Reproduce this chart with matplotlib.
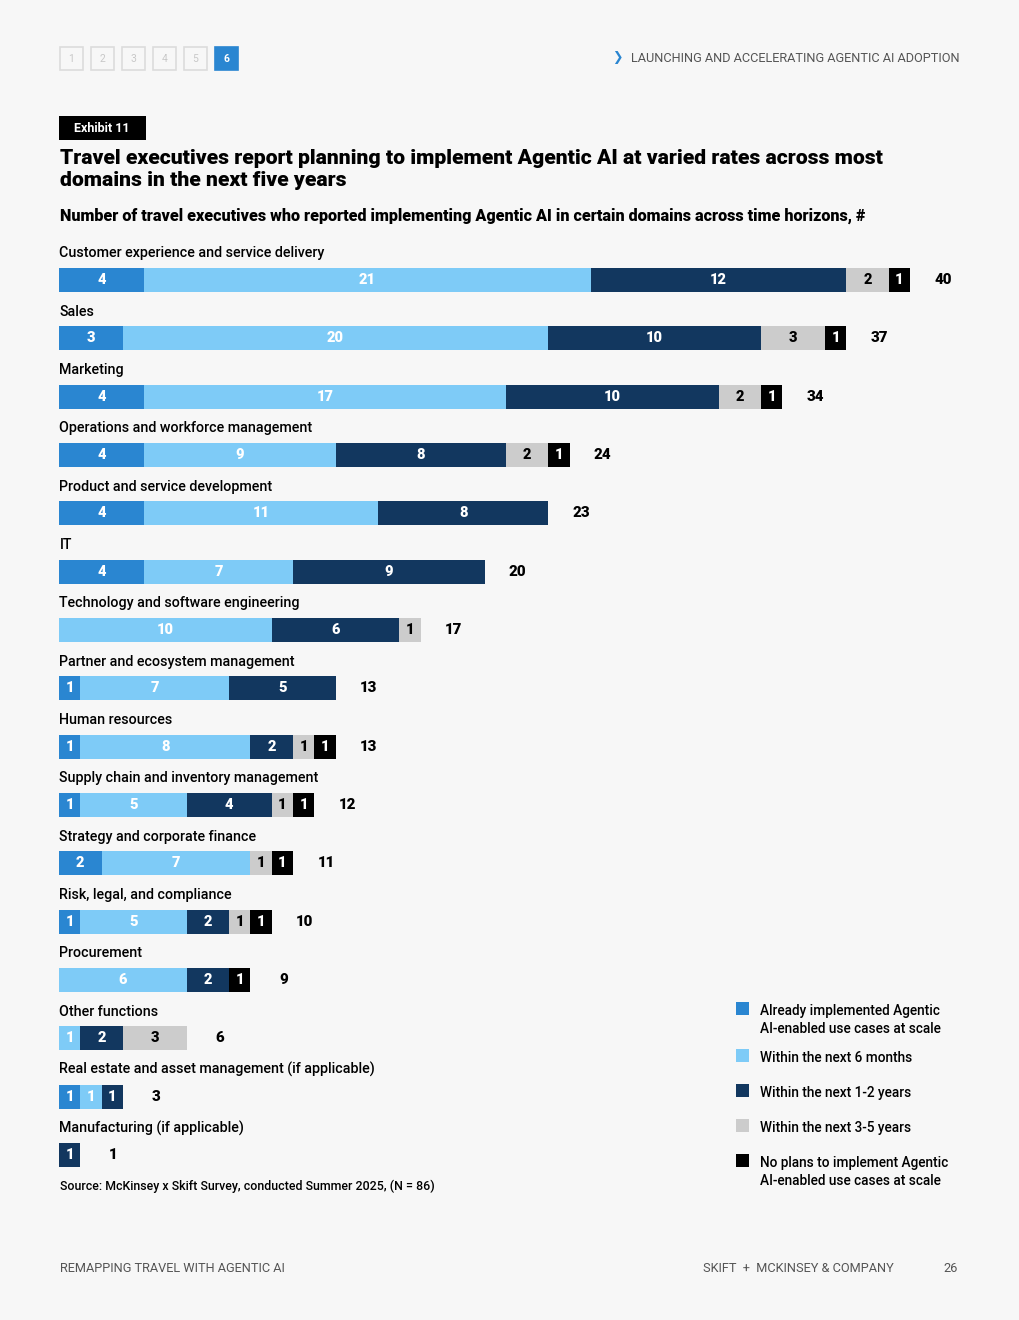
import matplotlib
matplotlib.use("Agg")
import matplotlib.pyplot as plt
from matplotlib.patches import Rectangle

categories = [
    "Customer experience and service delivery",
    "Sales",
    "Marketing",
    "Operations and workforce management",
    "Product and service development",
    "IT",
    "Technology and software engineering",
    "Partner and ecosystem management",
    "Human resources",
    "Supply chain and inventory management",
    "Strategy and corporate finance",
    "Risk, legal, and compliance",
    "Procurement",
    "Other functions",
    "Real estate and asset management (if applicable)",
    "Manufacturing (if applicable)",
]
already    = [4, 3, 4, 4, 4, 4, 0, 1, 1, 1, 2, 1, 0, 0, 1, 0]
six_months = [21, 20, 17, 9, 11, 7, 10, 7, 8, 5, 7, 5, 6, 1, 1, 0]
one_two    = [12, 10, 10, 8, 8, 9, 6, 5, 2, 4, 0, 2, 2, 2, 1, 1]
three_five = [2, 3, 2, 2, 0, 0, 1, 0, 1, 1, 1, 1, 0, 3, 0, 0]
no_plans   = [1, 1, 1, 1, 0, 0, 0, 0, 1, 1, 1, 1, 1, 0, 0, 0]

series_labels = [
    "Already implemented Agentic\nAI-enabled use cases at scale",
    "Within the next 6 months",
    "Within the next 1-2 years",
    "Within the next 3-5 years",
    "No plans to implement Agentic\nAI-enabled use cases at scale",
]
series = [already, six_months, one_two, three_five, no_plans]
colors = ["#2a86d1", "#7ecbf7", "#12375f", "#cccccc", "#000000"]
text_colors = ["white", "white", "white", "black", "white"]

BG = "#f7f7f7"
FONT = "Roboto"
W, H = 1020, 1320


def px(x, y):
    """pixel position (top-left origin) -> figure fraction"""
    return x / W, 1 - y / H


fig = plt.figure(figsize=(W / 100, H / 100), dpi=100, facecolor=BG)
plt.rcParams["font.family"] = FONT

# ---- header: page tabs + section name ----
for i in range(6):
    x0 = 60 + i * 31
    active = i == 5
    fx, fy = px(x0, 70)
    fig.patches.append(Rectangle((fx, fy), 23 / W, 23 / H, transform=fig.transFigure,
                                 facecolor="#2a86d1" if active else "none",
                                 edgecolor="#2a86d1" if active else "#dcdcdc",
                                 linewidth=1.2))
    fig.text(*px(x0 + 11.5, 58.5), str(i + 1), ha="center", va="center",
             fontsize=7.5, color="white" if active else "#c8c8c8",
             fontweight="bold" if active else "normal")
fig.text(*px(617, 58), "\u276F", ha="center", va="center", fontsize=9,
         color="#2a86d1", family=["DejaVu Sans"], fontweight="bold")
fig.text(*px(960, 58), "LAUNCHING AND ACCELERATING AGENTIC AI ADOPTION",
         ha="right", va="center", fontsize=9.2, color="#555555")

# ---- exhibit tag, title, subtitle ----
fx, fy = px(59, 140)
fig.patches.append(Rectangle((fx, fy), 87 / W, 24 / H, transform=fig.transFigure,
                             facecolor="black", edgecolor="none"))
fig.text(*px(102, 128.5), "Exhibit 11", ha="center", va="center",
         fontsize=9, color="white", fontweight="bold")
fig.text(*px(60, 169), "Travel executives report planning to implement Agentic AI at varied rates across most\n"
         "domains in the next five years", ha="left", va="center", fontsize=15.2,
         fontweight="black", color="black", linespacing=1.2)
fig.text(*px(60, 216), "Number of travel executives who reported implementing Agentic AI "
         "in certain domains across time horizons, #", ha="left", va="center",
         fontsize=11.6, fontweight="black", color="black")

# ---- stacked bars ----
n = len(categories)
row_top, row_pitch = 280, 875 / 15
ax = fig.add_axes([59 / W, 1 - (row_top + (n - 0.5) * row_pitch) / H,
                   851 / W, n * row_pitch / H])
ax.set_facecolor("none")
ax.set_xlim(0, 40)
ax.set_ylim(n - 0.5, -0.5)
ax.axis("off")

ypos = list(range(n))
left = [0] * n
for vals, col, tcol in zip(series, colors, text_colors):
    ax.barh(ypos, vals, left=left, height=0.41, color=col, edgecolor="none")
    for y, v, l in zip(ypos, vals, left):
        if v > 0:
            ax.text(l + v / 2, y, str(v), ha="center", va="center",
                    fontsize=10.5, fontweight="black", color=tcol)
    left = [l + v for l, v in zip(left, vals)]

for y, tot, name in zip(ypos, left, categories):
    ax.text(tot + 1.55, y, str(tot), ha="center", va="center",
            fontsize=10.8, fontweight="black", color="black")
    ax.text(0.02, y - 0.46, name, ha="left", va="center", fontsize=10.3,
            color="black", fontweight="medium", clip_on=False)

# ---- legend ----
leg_y = [1009, 1056, 1091, 1126, 1161]
for ly, col, lab in zip(leg_y, colors, series_labels):
    fx, fy = px(736, ly + 6)
    fig.patches.append(Rectangle((fx, fy), 13 / W, 13 / H, transform=fig.transFigure,
                                 facecolor=col, edgecolor="none"))
    fig.text(*px(760, ly - 5), lab, ha="left", va="top", fontsize=9.8,
             color="black", fontweight="medium", linespacing=1.35)

# ---- source + footer ----
fig.text(*px(60, 1186), "Source: McKinsey x Skift Survey, conducted Summer 2025, (N = 86)",
         ha="left", va="center", fontsize=8.9, color="black", fontweight="medium")
fig.text(*px(60, 1268), "REMAPPING TRAVEL WITH AGENTIC AI", ha="left", va="center",
         fontsize=9.2, color="#555555")
fig.text(*px(894, 1268), "SKIFT  +  MCKINSEY & COMPANY", ha="right", va="center",
         fontsize=9.2, color="#555555")
fig.text(*px(951, 1268), "26", ha="center", va="center", fontsize=9.2, color="#555555")

fig.savefig("out.png", dpi=100, facecolor=BG)
